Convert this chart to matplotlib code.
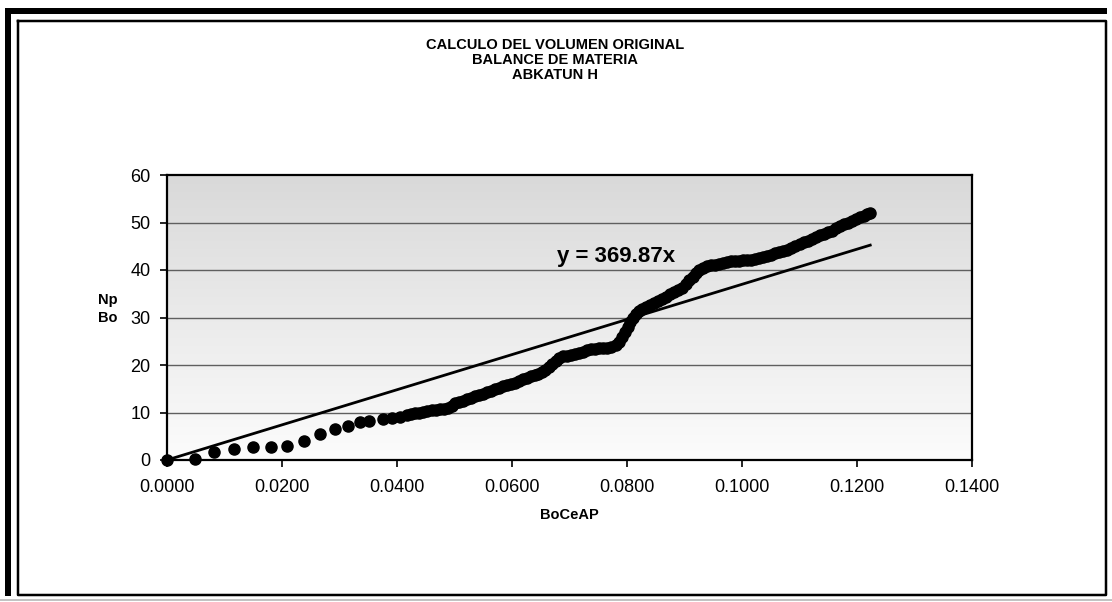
import numpy as np
import matplotlib.pyplot as plt
from matplotlib.colors import LinearSegmentedColormap

plt.rcParams['font.family'] = ['Liberation Sans', 'DejaVu Sans']

# BoCeAP vs Np/Bo
boceap = [0.0000, 0.0049, 0.0081, 0.0117, 0.0150, 0.0181, 0.0208, 0.0238, 0.0266, 0.0292,
          0.0314, 0.0336, 0.0352, 0.0375, 0.0391, 0.0405,
          0.0418, 0.0425, 0.0432, 0.0439, 0.0446, 0.0453, 0.0460, 0.0467, 0.0474, 0.0481,
          0.0488, 0.0495, 0.0501, 0.0507, 0.0514, 0.0521, 0.0528, 0.0535, 0.0542, 0.0549,
          0.0556, 0.0563, 0.0570, 0.0577, 0.0584, 0.0591, 0.0598, 0.0605, 0.0612, 0.0619,
          0.0626, 0.0633, 0.0640, 0.0646, 0.0652, 0.0658, 0.0664, 0.0670, 0.0676, 0.0682,
          0.0689, 0.0696, 0.0703, 0.0710, 0.0717, 0.0724, 0.0731, 0.0738, 0.0745, 0.0752,
          0.0759, 0.0766, 0.0773, 0.0780, 0.0786, 0.0792, 0.0797, 0.0802, 0.0806, 0.0810,
          0.0815, 0.0820, 0.0826, 0.0833, 0.0840, 0.0847, 0.0854, 0.0861, 0.0868, 0.0875,
          0.0882, 0.0889, 0.0896, 0.0902, 0.0908, 0.0914, 0.0920, 0.0926, 0.0932, 0.0939,
          0.0946, 0.0953, 0.0960, 0.0967, 0.0974, 0.0981, 0.0988, 0.0995, 0.1002, 0.1009,
          0.1016, 0.1023, 0.1030, 0.1037, 0.1044, 0.1051, 0.1058, 0.1065, 0.1072, 0.1079,
          0.1086, 0.1093, 0.1100, 0.1107, 0.1114, 0.1121, 0.1128, 0.1135, 0.1142, 0.1149,
          0.1156, 0.1163, 0.1170, 0.1177, 0.1184, 0.1191, 0.1198, 0.1205, 0.1212, 0.1218,
          0.1223]
np_bo = [0.0, 0.2, 1.6, 2.4, 2.7, 2.7, 2.9, 4.0, 5.4, 6.5,
         7.2, 7.9, 8.3, 8.6, 8.9, 9.1,
         9.4, 9.6, 9.8, 10.0, 10.2, 10.3, 10.5, 10.6, 10.7, 10.8,
         10.9, 11.4, 11.9, 12.3, 12.5, 12.8, 13.1, 13.4, 13.7, 14.0,
         14.3, 14.6, 14.9, 15.2, 15.5, 15.8, 16.0, 16.3, 16.6, 17.0,
         17.3, 17.6, 17.9, 18.2, 18.5, 19.0, 19.6, 20.3, 20.9, 21.4,
         21.8, 22.0, 22.1, 22.3, 22.5, 22.8, 23.1, 23.3, 23.4, 23.5,
         23.5, 23.6, 23.8, 24.2, 24.9, 25.8, 26.9, 28.0, 29.0, 30.0,
         30.8, 31.4, 31.8, 32.2, 32.6, 33.0, 33.5, 33.9, 34.3, 34.9,
         35.4, 35.8, 36.3, 37.0, 37.8, 38.6, 39.3, 40.0, 40.5, 40.8,
         41.0, 41.1, 41.3, 41.4, 41.6, 41.8, 41.9, 42.0, 42.1, 42.1,
         42.2, 42.3, 42.5, 42.7, 42.9, 43.2, 43.5, 43.7, 44.0, 44.3,
         44.7, 45.1, 45.5, 45.8, 46.1, 46.5, 46.9, 47.3, 47.6, 47.9,
         48.3, 48.8, 49.2, 49.6, 50.0, 50.4, 50.8, 51.1, 51.4, 51.7,
         51.9]
slope = 369.87

title_lines = ['CALCULO DEL VOLUMEN ORIGINAL', 'BALANCE DE MATERIA', 'ABKATUN H']

W, H = 1112, 602
fig = plt.figure(figsize=(W / 100, H / 100), dpi=100)

# frame drawn in pixel coordinates on a background axes
bg = fig.add_axes([0, 0, 1, 1], zorder=-1)
bg.set_xlim(0, W)
bg.set_ylim(H, 0)
bg.axis('off')
bg.plot([8, 8], [8, 596], color='black', lw=6 * 0.72, solid_capstyle='butt')
bg.plot([5, 1107], [11, 11], color='black', lw=6 * 0.72, solid_capstyle='butt')
bg.plot([18, 1106, 1106, 18, 18], [21, 21, 595, 595, 21], color='black', lw=2.5 * 0.72)
bg.plot([0, W], [600, 600], color='#b0b0b0', lw=1.5 * 0.72)

ax = fig.add_axes([167 / W, 1 - 460 / H, (972 - 167) / W, (460 - 175) / H])

# plot area gradient (darker at top)
cmap = LinearSegmentedColormap.from_list('g', ['#fcfcfc', '#d9d9d9'])
grad = np.linspace(0, 1, 256).reshape(-1, 1)
ax.imshow(grad, cmap=cmap, aspect='auto', extent=[0, 0.14, 0, 60], origin='lower', zorder=0)

ax.set_xlim(0, 0.14)
ax.set_ylim(0, 60)
xticks = np.arange(0, 0.1401, 0.02)
ax.set_xticks(xticks)
ax.set_yticks(range(0, 61, 10))
ax.set_xticklabels(['%.4f' % v for v in xticks])
for yv in range(10, 60, 10):
    ax.axhline(yv, color='#5f5f5f', lw=1.0, zorder=1)
for s in ax.spines.values():
    s.set_linewidth(1.6)
    s.set_zorder(5)
ax.tick_params(axis='both', direction='out', length=5, width=1.2, labelsize=13)
ax.tick_params(axis='x', pad=9)
ax.tick_params(axis='y', pad=7)

ax.plot(boceap, np_bo, 'o', color='black', markersize=8, zorder=3, clip_on=False)
xt = np.array([0, max(boceap)])
ax.plot(xt, slope * xt, color='black', lw=2.0, zorder=4)
ax.text(0.0678, 42.9, 'y = %.2fx' % slope, fontsize=16, fontweight='bold', va='center', ha='left', zorder=6)

ax.set_xlabel('BoCeAP', fontsize=10.5, fontweight='bold', labelpad=8)
fig.text(98 / W, 1 - 309 / H, 'Np\nBo', fontsize=10.5, fontweight='bold', ha='left', va='center', linespacing=1.35)

fig.text(555 / W, 1 - 38 / H, '\n'.join(title_lines), fontsize=10.5, fontweight='bold',
         ha='center', va='top', linespacing=1.1)

fig.savefig('out.png', dpi=100)
